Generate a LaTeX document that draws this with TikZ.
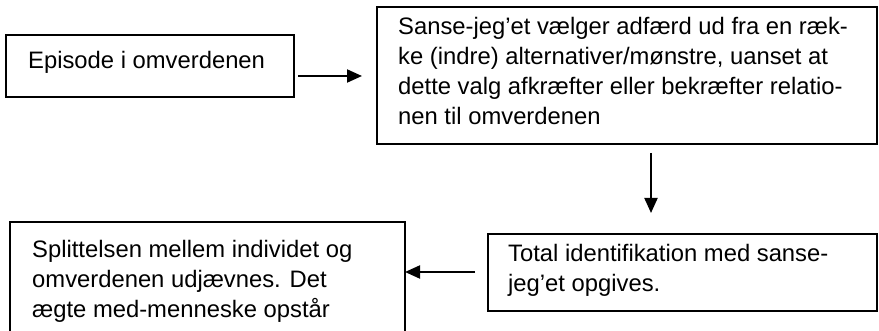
\documentclass[tikz,border=0pt]{standalone}
\usepackage{fontspec}
\setmainfont{Liberation Sans}
\usetikzlibrary{arrows.meta}
\begin{document}
\begin{tikzpicture}[x=1pt,y=-1pt,
  box/.style={draw,line width=1.5pt,inner sep=0pt,outer sep=0pt,anchor=north west},
  txt/.style={inner sep=0pt,anchor=base west,align=left,font=\fontsize{23.8}{30}\selectfont},
  arr/.style={line width=2pt,-{Triangle[length=15pt,width=13pt]}}]
\useasboundingbox (0,0) rectangle (879,331);
\clip (0,0) rectangle (879,331);
\node[box,minimum width=288pt,minimum height=62pt] (b1) at (6,35) {};
\node[box,minimum width=500pt,minimum height=137pt] (b2) at (377,7) {};
\node[box,minimum width=395pt,minimum height=150pt] (b3) at (10,222) {};
\node[box,minimum width=389pt,minimum height=77pt] (b4) at (488,234) {};
\node[txt] (t1) at (28,69) {Episode i omverdenen};
\node[txt] (t2) at (398,125) {Sanse-jeg’et vælger adfærd ud fra en ræk-\\ke (indre) alternativer/mønstre, uanset at\\dette valg afkræfter eller bekræfter relatio-\\nen til omverdenen};
\node[txt] (t3) at (32,318) {Splittelsen mellem individet og\\omverdenen udjævnes. Det\\ægte med-menneske opstår};
\node[txt] (t4) at (508,292) {Total identifikation med sanse-\\jeg’et opgives.};
\coordinate (a1s) at (298,76);
\coordinate (a1e) at (362,76);
\coordinate (a2s) at (651,153);
\coordinate (a2e) at (651,213);
\coordinate (a3s) at (475,272);
\draw[arr] (a1s) -- (a1e);
\draw[arr] (a2s) -- (a2e);
\draw[arr] (a3s) -- (a3s -| b3.east);
\end{tikzpicture}
\end{document}
